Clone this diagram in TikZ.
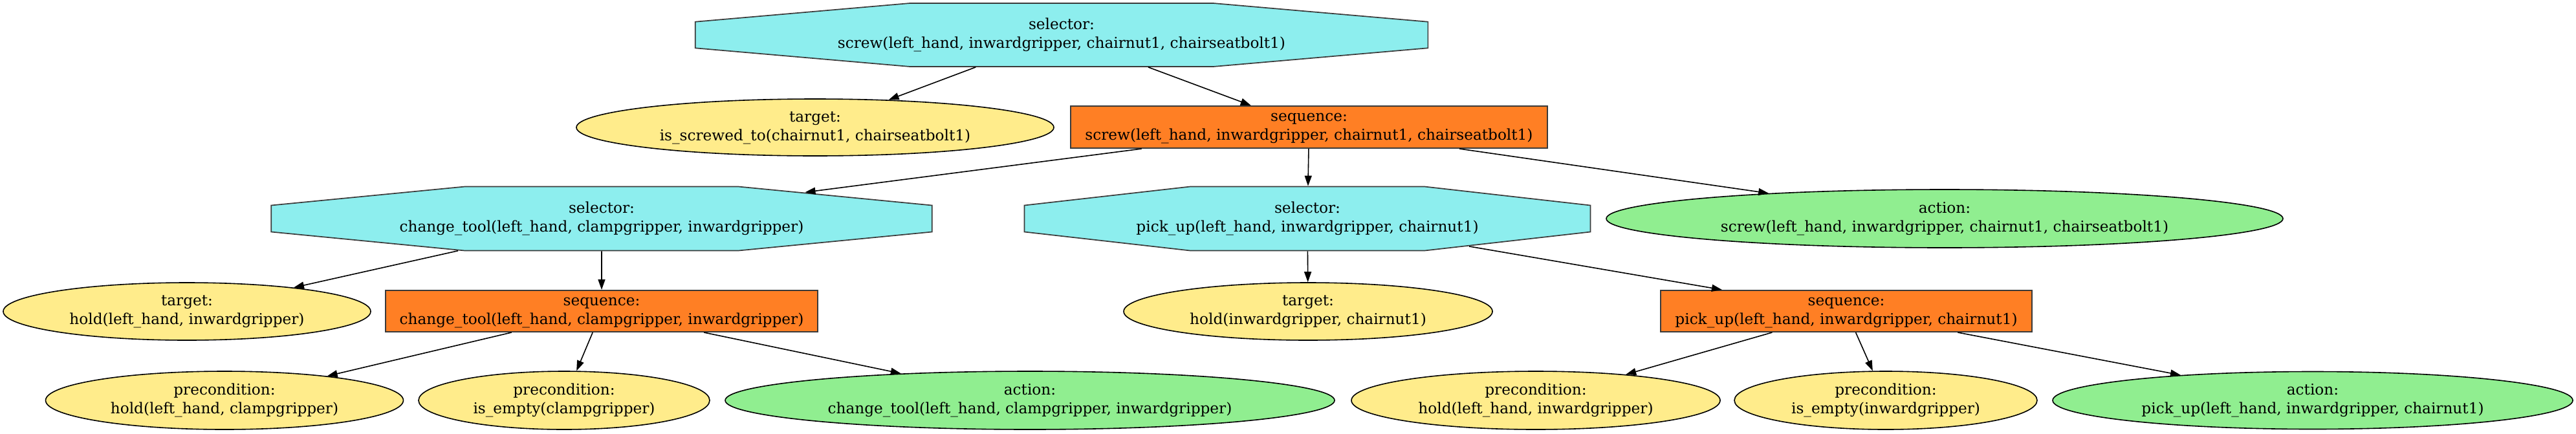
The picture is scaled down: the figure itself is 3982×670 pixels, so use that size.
\documentclass[tikz,border=0pt]{standalone}
\usepackage{fontspec}
\setmainfont{DejaVu Serif}
\usetikzlibrary{shapes.geometric,arrows.meta}
\definecolor{selcyan}{HTML}{8DEEEE}
\definecolor{seqorange}{HTML}{FF7F24}
\definecolor{condyellow}{HTML}{FFEC8B}
\definecolor{actgreen}{HTML}{90EE90}
\definecolor{bordergray}{HTML}{3A3A3A}
\newcommand{\lbl}[2]{\begin{tabular}{@{}c@{}}#1\\#2\end{tabular}}
\tikzset{
  every node/.style={font=\fontsize{23.2}{29}\selectfont, text=black, inner sep=0pt},
  octo/.style={regular polygon, regular polygon sides=8, draw=bordergray, fill=selcyan,
    line width=1.7pt, transform shape},
  seqbox/.style={rectangle, draw=bordergray, fill=seqorange, line width=2pt},
  condell/.style={ellipse, draw=black, fill=condyellow, line width=1.6pt},
  actell/.style={ellipse, draw=black, fill=actgreen, line width=1.6pt},
  conn/.style={draw=black, line width=1.6pt, -{Triangle[length=16pt,width=11pt]}},
}
\begin{document}
\begin{tikzpicture}[x=1pt,y=-1pt]
\useasboundingbox (0,0) rectangle (3982,670);
% row 0
\begin{scope}[shift={(1641,54)}]
\node[octo, minimum size=106.06pt, xscale=11.56] (sel0) at (0,0)
  {\scalebox{0.08651}[1]{\lbl{selector:}{screw(left\_hand, inwardgripper, chairnut1, chairseatbolt1)}}};
\end{scope}
% row 1
\node[condell, minimum width=738pt, minimum height=88pt] (tgt0) at (1260,197)
  {\lbl{target:}{is\_screwed\_to(chairnut1, chairseatbolt1)}};
\node[seqbox, minimum width=737pt, minimum height=65pt] (seq0) at (2023.5,196.5)
  {\lbl{sequence:}{screw(left\_hand, inwardgripper, chairnut1, chairseatbolt1)}};
% row 2
\begin{scope}[shift={(930,338)}]
\node[octo, minimum size=107.14pt, xscale=10.32] (sel1) at (0,0)
  {\scalebox{0.09690}[1]{\lbl{selector:}{change\_tool(left\_hand, clampgripper, inwardgripper)}}};
\end{scope}
\begin{scope}[shift={(2021,338)}]
\node[octo, minimum size=107.14pt, xscale=8.84] (sel2) at (0,0)
  {\scalebox{0.11312}[1]{\lbl{selector:}{pick\_up(left\_hand, inwardgripper, chairnut1)}}};
\end{scope}
\node[actell, minimum width=1046pt, minimum height=90pt] (act0) at (3006,338)
  {\lbl{action:}{screw(left\_hand, inwardgripper, chairnut1, chairseatbolt1)}};
% row 3
\node[condell, minimum width=568pt, minimum height=89pt] (tgt1) at (289,481.5)
  {\lbl{target:}{hold(left\_hand, inwardgripper)}};
\node[seqbox, minimum width=668pt, minimum height=64pt] (seq1) at (930,481)
  {\lbl{sequence:}{change\_tool(left\_hand, clampgripper, inwardgripper)}};
\node[condell, minimum width=570pt, minimum height=89pt] (tgt2) at (2022,481.5)
  {\lbl{target:}{hold(inwardgripper, chairnut1)}};
\node[seqbox, minimum width=574pt, minimum height=64pt] (seq2) at (2854,481)
  {\lbl{sequence:}{pick\_up(left\_hand, inwardgripper, chairnut1)}};
% row 4
\node[condell, minimum width=553pt, minimum height=90pt] (pre1) at (347,619)
  {\lbl{precondition:}{hold(left\_hand, clampgripper)}};
\node[condell, minimum width=450pt, minimum height=90pt] (pre2) at (872,619)
  {\lbl{precondition:}{is\_empty(clampgripper)}};
\node[actell, minimum width=942pt, minimum height=90pt] (act1) at (1592,619)
  {\lbl{action:}{change\_tool(left\_hand, clampgripper, inwardgripper)}};
\node[condell, minimum width=570pt, minimum height=90pt] (pre3) at (2374,619)
  {\lbl{precondition:}{hold(left\_hand, inwardgripper)}};
\node[condell, minimum width=468pt, minimum height=90pt] (pre4) at (2915,619)
  {\lbl{precondition:}{is\_empty(inwardgripper)}};
\node[actell, minimum width=804pt, minimum height=89pt] (act2) at (3575,619)
  {\lbl{action:}{pick\_up(left\_hand, inwardgripper, chairnut1)}};
% connectors
\draw[conn] (sel0) -- (tgt0);
\draw[conn] (sel0) -- (seq0);
\draw[conn] (seq0) -- (sel1);
\draw[conn] (seq0) -- (sel2);
\draw[conn] (seq0) -- (act0);
\draw[conn] (sel1) -- (tgt1);
\draw[conn] (sel1) -- (seq1);
\draw[conn] (sel2) -- (tgt2);
\draw[conn] (sel2) -- (seq2);
\draw[conn] (seq1) -- (pre1);
\draw[conn] (seq1) -- (pre2);
\draw[conn] (seq1) -- (act1);
\draw[conn] (seq2) -- (pre3);
\draw[conn] (seq2) -- (pre4);
\draw[conn] (seq2) -- (act2);
\end{tikzpicture}
\end{document}
